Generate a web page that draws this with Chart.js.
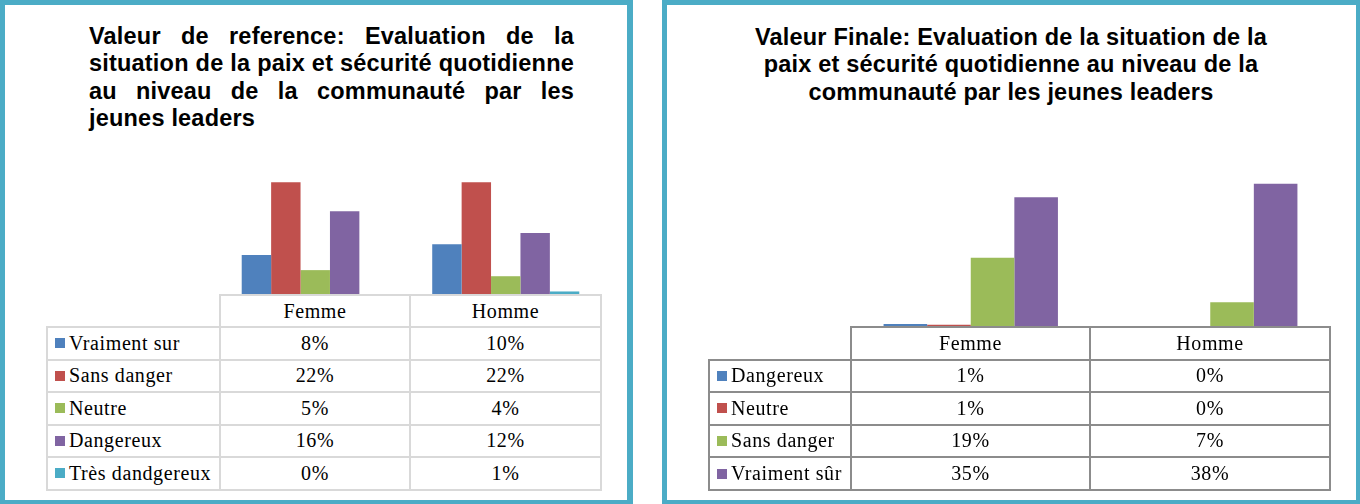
<!DOCTYPE html>
<html><head><meta charset="utf-8">
<script src="https://cdn.jsdelivr.net/npm/chart.js@4/dist/chart.umd.min.js"></script>
<style>
html,body{margin:0;padding:0;background:#fff;width:1360px;height:504px;overflow:hidden;position:relative}
.panel{position:absolute;box-sizing:border-box;border:5px solid #4BACC6;background:#fff}
.title{position:absolute;font-family:"Liberation Sans",Arial,sans-serif;font-weight:bold;font-size:23.5px;letter-spacing:0.2px;line-height:27.5px;color:#000}
.jl{text-align:justify;text-align-last:justify;white-space:nowrap}
.cell{position:absolute;box-sizing:border-box;font-family:"Liberation Serif","Times New Roman",serif;font-size:20px;letter-spacing:0.6px;color:#000;display:flex;align-items:center;justify-content:center;white-space:nowrap;background:transparent}
.lab{justify-content:flex-start;padding-left:7px}
.sq{display:inline-block;width:10px;height:10px;margin-right:4px}
canvas{position:absolute}
</style>
</head><body>

<div class="panel" style="left:0;top:0;width:633px;height:504px;border-width:5px 6px 4px 5px"></div>
<div class="panel" style="left:662px;top:0;width:698px;height:504px;border-width:5px 4px 4px 5px"></div>

<div class="title" style="left:89px;top:22.5px;width:485px">
  <div class="jl">Valeur de reference: Evaluation de la</div>
  <div class="jl">situation de la paix et sécurité quotidienne</div>
  <div class="jl">au niveau de la communauté par les</div>
  <div>jeunes leaders</div>
</div>
<div class="title" style="left:662px;top:23.5px;width:698px;text-align:center">
  Valeur Finale: Evaluation de la situation de la<br>paix et sécurité quotidienne au niveau de la<br>communauté par les jeunes leaders
</div>

<canvas id="c1" width="381" height="127" style="left:220px;top:167px;width:381px;height:127px"></canvas>
<canvas id="c2" width="479" height="150" style="left:851px;top:177px;width:479px;height:150px"></canvas>

<script>
// ---- Data: left chart (Valeur de reference) ----
const categories1 = ['Femme', 'Homme'];
const seriesNames1 = ['Vraiment sur', 'Sans danger', 'Neutre', 'Dangereux', 'Très dandgereux'];
const vraimentSur1 = [7.7, 9.8];
const sansDanger1 = [22, 22];
const neutre1 = [4.7, 3.5];
const dangereux1 = [16.3, 12];
const tresDangereux1 = [0, 0.5];
const colors1 = ['#4F81BD', '#C0504D', '#9BBB59', '#8064A2', '#4BACC6'];

// ---- Data: right chart (Valeur Finale) ----
const categories2 = ['Femme', 'Homme'];
const seriesNames2 = ['Dangereux', 'Neutre', 'Sans danger', 'Vraiment sûr'];
const dangereux2 = [0.8, 0];
const neutre2 = [0.6, 0];
const sansDanger2 = [18.5, 6.6];
const vraimentSur2 = [34.6, 38.2];
const colors2 = ['#4F81BD', '#C0504D', '#9BBB59', '#8064A2'];

const series1 = [vraimentSur1, sansDanger1, neutre1, dangereux1, tresDangereux1];
const series2 = [dangereux2, neutre2, sansDanger2, vraimentSur2];

function makeChart(id, cats, names, series, colors, ymax, catPct) {
  new Chart(document.getElementById(id), {
    type: 'bar',
    data: {
      labels: cats,
      datasets: series.map((s, i) => ({
        label: names[i], data: s, backgroundColor: colors[i],
        borderWidth: 0, barPercentage: 1, categoryPercentage: catPct
      }))
    },
    options: {
      responsive: false, animation: false,
      layout: { padding: 0 },
      plugins: { legend: { display: false }, tooltip: { enabled: false } },
      scales: {
        x: { display: false },
        y: { display: false, min: 0, max: ymax }
      }
    }
  });
}
makeChart('c1', categories1, seriesNames1, series1, colors1, 25, 0.772);
makeChart('c2', categories2, seriesNames2, series2, colors2, 40, 0.728);

function cell(x0, x1, y0, y1, border, html, cls) {
  const d = document.createElement('div');
  d.className = 'cell' + (cls ? ' ' + cls : '');
  d.style.left = (x0 - 1) + 'px';
  d.style.top = (y0 - 1) + 'px';
  d.style.width = (x1 - x0 + 2) + 'px';
  d.style.height = (y1 - y0 + 2) + 'px';
  d.style.border = '2px solid ' + border;
  d.innerHTML = html;
  document.body.appendChild(d);
}

function makeTable(xs, ys, border, cats, names, series, colors) {
  cats.forEach((c, j) => cell(xs[j + 1], xs[j + 2], ys[0], ys[1], border, c));
  names.forEach((n, i) => {
    cell(xs[0], xs[1], ys[i + 1], ys[i + 2], border,
      '<span class="sq" style="background:' + colors[i] + '"></span>' + n, 'lab');
    cats.forEach((c, j) => cell(xs[j + 1], xs[j + 2], ys[i + 1], ys[i + 2], border,
      Math.round(series[i][j]) + '%'));
  });
}
makeTable([47, 220, 410, 601], [295, 327, 359.5, 392, 424.5, 457, 489.5], '#D9D9D9',
  categories1, seriesNames1, series1, colors1);
makeTable([709, 851, 1090, 1330], [327, 359.5, 392, 424.5, 457, 490], '#8C8C8C',
  categories2, seriesNames2, series2, colors2);
</script>
</body></html>
